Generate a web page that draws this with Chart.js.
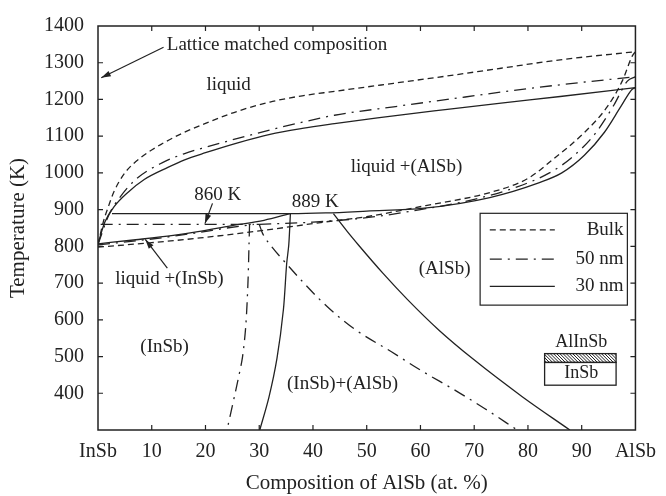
<!DOCTYPE html>
<html>
<head>
<meta charset="utf-8">
<script src="https://cdn.jsdelivr.net/npm/chart.js@4.4.0/dist/chart.umd.min.js"></script>
<style>
  html, body { margin: 0; padding: 0; background: #fff; }
  #wrap { width: 666px; height: 496px; }
</style>
</head>
<body>
<div id="wrap"><canvas id="phase"></canvas></div>
<script>
// composition (at.% AlSb) and temperature (K)

// bulk
const bulkLiqX = [0, 1, 2, 3, 5, 8, 12, 16, 20, 26, 32, 38, 44, 55, 65, 75, 86, 100];
const bulkLiqT = [805, 867, 911, 950, 1000, 1042, 1080, 1110, 1135, 1168, 1193, 1210, 1222, 1244, 1264, 1285, 1308, 1330];
const bulkSolX = [0, 10, 19, 30, 42, 50, 61, 73, 80, 84.5, 90.5, 94.8, 97.6, 99.4, 100];
const bulkSolT = [798, 810, 823, 842, 866, 881, 911, 947, 985, 1035, 1110, 1181, 1252, 1318, 1330];

// 50 nm
const nm50LiqX = [0, 2, 4, 7, 12, 16, 20, 26, 32, 38, 44, 55, 65, 75, 86, 100];
const nm50LiqT = [805, 885, 932, 982, 1028, 1052, 1070, 1094, 1117, 1138, 1157, 1180, 1200, 1220, 1240, 1262];
const nm50EutX = [0.5, 30];
const nm50EutT = [860, 860];
const nm50SolLeftX = [0, 10, 18, 24, 29];
const nm50SolLeftT = [804, 820, 836, 850, 860];
const nm50SolRightX = [30, 40, 50, 60, 70, 78, 84, 88, 92.4, 96, 98.5, 100];
const nm50SolRightT = [860, 866, 878, 900, 928, 962, 1000, 1040, 1105, 1185, 1250, 1262];
const nm50GapLeftX = [28.2, 28.1, 27.9, 27.5, 26.9, 26, 24];
const nm50GapLeftT = [860, 805, 700, 584, 500, 433, 300];
const nm50GapRightX = [30, 30.6, 32, 35.1, 38, 41, 44, 48, 54.6, 60, 66.7, 72, 78];
const nm50GapRightT = [860, 836, 805, 752, 705, 659, 618, 572, 513, 463, 406, 358, 300];

// 30 nm
const nm30LiqX = [0, 1.3, 3, 5.5, 8.6, 13, 16, 20, 26, 32, 38, 44, 52, 65, 75, 86, 100];
const nm30LiqT = [808, 867, 908, 946, 982, 1015, 1035, 1055, 1082, 1105, 1121, 1134, 1150, 1173, 1190, 1208, 1232];
const nm30SolRightX = [2.6, 36, 42.4, 50, 60.7, 72.9, 82, 86.3, 90.5, 94.2, 97.3, 99.4, 100];
const nm30SolRightT = [889, 889, 891, 896, 904, 933, 973, 1000, 1048, 1110, 1181, 1228, 1232];
const nm30SolLeftX = [0, 7, 14, 18.6, 24.7, 30.9, 35.7];
const nm30SolLeftT = [807, 818, 830, 840, 856, 871, 889];
const nm30GapLeftX = [35.8, 35.5, 35.1, 34.5, 33.3, 31.8, 30.1];
const nm30GapLeftT = [889, 805, 752, 628, 495, 389, 300];
const nm30GapRightX = [43.8, 46.4, 48.5, 53, 57.6, 63.5, 69.8, 79, 87.8];
const nm30GapRightT = [889, 840, 803, 727, 655, 571, 493, 390, 300];

const xTickLabels = { 0: 'InSb', 100: 'AlSb' };
const legendLabels = ['Bulk', '50 nm', '30 nm'];

const SERIF = "'Liberation Serif', 'DejaVu Serif', serif";
const INK = '#222';
const DASH_BULK = [6, 4];
const DASH_50 = [12, 6, 2, 6];

function pts(xs, ts) {
  return xs.map((x, i) => ({ x: x, y: ts[i] }));
}

// monotone in x -> monotone cubic; near-vertical boundaries -> plain bezier
function line(xs, ts, dash, steep) {
  const ds = {
    data: pts(xs, ts),
    showLine: true,
    borderColor: INK,
    borderWidth: 1.3,
    borderDash: dash,
    pointRadius: 0,
    fill: false
  };
  if (steep) ds.tension = 0.3;
  else ds.cubicInterpolationMode = 'monotone';
  return ds;
}

const datasets = [
  line(bulkLiqX, bulkLiqT, DASH_BULK),
  line(bulkSolX, bulkSolT, DASH_BULK),
  line(nm50LiqX, nm50LiqT, DASH_50),
  line(nm50EutX, nm50EutT, DASH_50),
  line(nm50SolLeftX, nm50SolLeftT, DASH_50),
  line(nm50SolRightX, nm50SolRightT, DASH_50),
  line(nm50GapLeftX, nm50GapLeftT, DASH_50, true),
  line(nm50GapRightX, nm50GapRightT, DASH_50),
  line(nm30LiqX, nm30LiqT, []),
  line(nm30SolRightX, nm30SolRightT, []),
  line(nm30SolLeftX, nm30SolLeftT, []),
  line(nm30GapLeftX, nm30GapLeftT, [], true),
  line(nm30GapRightX, nm30GapRightT, [])
];

// frame, inward ticks, labels, arrows, legend and inset
const decor = {
  id: 'decor',
  afterDatasetsDraw(chart) {
    const ctx = chart.ctx;
    const a = chart.chartArea;
    const sx = chart.scales.x, sy = chart.scales.y;
    const px = v => sx.getPixelForValue(v);
    const py = v => sy.getPixelForValue(v);

    ctx.save();
    ctx.strokeStyle = INK;
    ctx.fillStyle = INK;
    ctx.setLineDash([]);

    // frame
    ctx.lineWidth = 1.5;
    ctx.strokeRect(a.left, a.top, a.right - a.left, a.bottom - a.top);

    // ticks pointing inward on all sides
    ctx.lineWidth = 1.2;
    ctx.beginPath();
    for (let v = 10; v < 100; v += 10) {
      ctx.moveTo(px(v), a.bottom); ctx.lineTo(px(v), a.bottom - 5);
      ctx.moveTo(px(v), a.top); ctx.lineTo(px(v), a.top + 5);
    }
    for (let t = 400; t < 1400; t += 100) {
      ctx.moveTo(a.left, py(t)); ctx.lineTo(a.left + 5, py(t));
      ctx.moveTo(a.right, py(t)); ctx.lineTo(a.right - 5, py(t));
    }
    ctx.stroke();

    function text(s, x, t, align, size) {
      ctx.font = (size || 19) + 'px ' + SERIF;
      ctx.textAlign = align || 'center';
      ctx.textBaseline = 'middle';
      ctx.fillText(s, px(x), py(t));
    }

    function arrow(x1, t1, x2, t2) {
      const X1 = px(x1), Y1 = py(t1), X2 = px(x2), Y2 = py(t2);
      const ang = Math.atan2(Y2 - Y1, X2 - X1);
      ctx.lineWidth = 1.2;
      ctx.beginPath();
      ctx.moveTo(X1, Y1);
      ctx.lineTo(X2, Y2);
      ctx.stroke();
      ctx.beginPath();
      ctx.moveTo(X2, Y2);
      ctx.lineTo(X2 - 10 * Math.cos(ang - 0.3), Y2 - 10 * Math.sin(ang - 0.3));
      ctx.lineTo(X2 - 10 * Math.cos(ang + 0.3), Y2 - 10 * Math.sin(ang + 0.3));
      ctx.closePath();
      ctx.fill();
    }

    text('Lattice matched composition', 12.8, 1347, 'left');
    arrow(12.2, 1342, 0.6, 1259);
    text('liquid', 24.3, 1238);
    text('liquid +(AlSb)', 57.4, 1017);
    text('860 K', 22.3, 940);
    arrow(21.3, 917, 19.9, 862);
    text('889 K', 40.4, 920);
    text('liquid +(InSb)', 13.3, 712);
    arrow(12.9, 741, 8.8, 819);
    text('(InSb)', 12.4, 526);
    text('(InSb)+(AlSb)', 45.5, 425);
    text('(AlSb)', 64.5, 738);

    // legend box
    const lx0 = px(71.1), lx1 = px(98.5), ly0 = py(890), ly1 = py(640);
    ctx.lineWidth = 1.2;
    ctx.fillStyle = '#fff';
    ctx.fillRect(lx0, ly0, lx1 - lx0, ly1 - ly0);
    ctx.strokeRect(lx0, ly0, lx1 - lx0, ly1 - ly0);
    ctx.fillStyle = INK;
    const legendT = [845, 765, 691];
    const legendDash = [DASH_BULK, DASH_50, []];
    legendLabels.forEach((lab, i) => {
      ctx.setLineDash(legendDash[i]);
      ctx.lineWidth = 1.3;
      ctx.beginPath();
      ctx.moveTo(px(72.9), py(legendT[i]));
      ctx.lineTo(px(85), py(legendT[i]));
      ctx.stroke();
      ctx.setLineDash([]);
      text(lab, 97.8, legendT[i], 'right', 19);
    });

    // inset: AlInSb layer on InSb
    text('AlInSb', 89.9, 540, 'center', 18);
    const ix0 = px(83.1), ix1 = px(96.4);
    const iy0 = py(508), iy1 = py(484), iy2 = py(422);
    ctx.save();
    ctx.beginPath();
    ctx.rect(ix0, iy0, ix1 - ix0, iy1 - iy0);
    ctx.clip();
    ctx.lineWidth = 1;
    ctx.beginPath();
    for (let h = ix0 - 20; h < ix1 + 20; h += 3.2) {
      ctx.moveTo(h, iy0);
      ctx.lineTo(h + (iy1 - iy0), iy1);
    }
    ctx.stroke();
    ctx.restore();
    ctx.lineWidth = 1.3;
    ctx.strokeRect(ix0, iy0, ix1 - ix0, iy1 - iy0);
    ctx.strokeRect(ix0, iy1, ix1 - ix0, iy2 - iy1);
    text('InSb', 89.9, 454, 'center', 18);

    ctx.restore();
  }
};

new Chart(document.getElementById('phase'), {
  type: 'scatter',
  data: { datasets: datasets },
  options: {
    responsive: true,
    maintainAspectRatio: false,
    animation: false,
    layout: { padding: { left: 0, right: 21, top: 16, bottom: 0 } },
    plugins: { legend: { display: false }, tooltip: { enabled: false } },
    scales: {
      x: {
        type: 'linear',
        min: 0,
        max: 100,
        grid: { display: false, drawTicks: false },
        border: { display: false },
        ticks: {
          stepSize: 10,
          autoSkip: false,
          maxRotation: 0,
          padding: 10,
          color: INK,
          font: { family: SERIF, size: 20 },
          callback: v => xTickLabels[v] !== undefined ? xTickLabels[v] : String(v)
        },
        title: {
          display: true,
          text: 'Composition of AlSb (at. %)',
          color: INK,
          font: { family: SERIF, size: 21 },
          padding: 0
        },
        afterFit: s => { s.height = 66; }
      },
      y: {
        type: 'linear',
        min: 300,
        max: 1400,
        grid: { display: false, drawTicks: false },
        border: { display: false },
        ticks: {
          stepSize: 100,
          padding: 14,
          color: INK,
          font: { family: SERIF, size: 20 },
          callback: v => v === 300 ? '' : String(v)
        },
        title: {
          display: true,
          text: 'Temperature (K)',
          color: INK,
          font: { family: SERIF, size: 21 },
          padding: { top: 6, bottom: 0 }
        },
        afterFit: s => { s.width = 98; }
      }
    }
  },
  plugins: [decor]
});
</script>
</body>
</html>
